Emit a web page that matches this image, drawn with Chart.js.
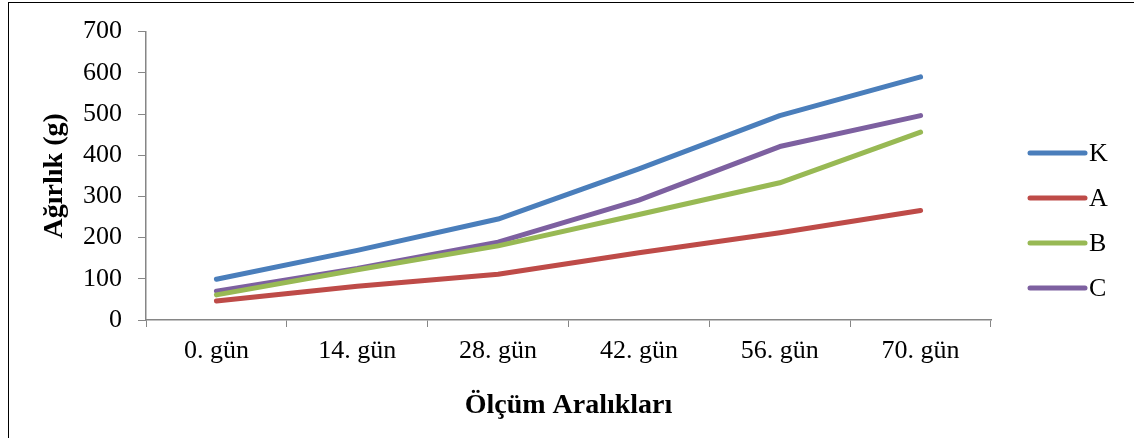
<!DOCTYPE html>
<html lang="tr">
<head>
<meta charset="utf-8">
<title>Ağırlık (g)</title>
<script src="https://cdn.jsdelivr.net/npm/chart.js@4/dist/chart.umd.min.js"></script>
<style>
  html, body { margin: 0; padding: 0; background: #fff; overflow: hidden; }
  #frame {
    position: absolute; left: 8px; top: 2px;
    width: 1200px; height: 500px;
    border-left: 1px solid #000; border-top: 1px solid #000;
  }
  #wrap { position: absolute; left: 0; top: 0; width: 1134px; height: 438px; }
</style>
</head>
<body>
<div id="frame"></div>
<div id="wrap"><canvas id="chart" width="1134" height="438"></canvas></div>
<script>
// ===== Data =====
const days = ['0. gün', '14. gün', '28. gün', '42. gün', '56. gün', '70. gün'];

const groupK = [99, 169, 245, 367, 496, 590];
const groupA = [46, 82, 111, 163, 212, 266];
const groupB = [61, 122, 180, 256, 333, 456];
const groupC = [70, 125, 189, 291, 421, 496];

const yTicks = [0, 100, 200, 300, 400, 500, 600, 700];

// ── Styling ────────────────────────────────────────────────────────────────
const SERIF = "'Liberation Serif', 'Times New Roman', serif";
const AXIS_GREY = '#868686';

const series = [
  { label: 'K', data: groupK, color: '#4A7EBB' },
  { label: 'A', data: groupA, color: '#BE4B48' },
  { label: 'B', data: groupB, color: '#98B954' },
  { label: 'C', data: groupC, color: '#7D60A0' },
];

// Legend drawn beside the plot: short thick line + series name.
const sideLegend = {
  id: 'sideLegend',
  afterDraw(chart) {
    const ctx = chart.ctx;
    const x0 = 1030, x1 = 1085, top = 153, step = 45;
    ctx.save();
    ctx.font = `26px ${SERIF}`;
    ctx.textBaseline = 'middle';
    ctx.lineCap = 'round';
    chart.data.datasets.forEach((ds, i) => {
      const y = top + i * step;
      ctx.strokeStyle = ds.borderColor;
      ctx.lineWidth = 5;
      ctx.beginPath();
      ctx.moveTo(x0, y);
      ctx.lineTo(x1, y);
      ctx.stroke();
      ctx.fillStyle = '#000';
      ctx.fillText(ds.label, x1 + 4, y + 1);
    });
    ctx.restore();
  },
};

new Chart(document.getElementById('chart'), {
  type: 'line',
  data: {
    labels: days,
    datasets: series.map(s => ({
      label: s.label,
      data: s.data,
      borderColor: s.color,
      backgroundColor: s.color,
      borderWidth: 5,
      borderCapStyle: 'round',
      borderJoinStyle: 'round',
      pointRadius: 0,
      tension: 0,
      fill: false,
    })),
  },
  options: {
    responsive: false,
    animation: false,
    layout: { padding: { left: 0, right: 143, top: 31, bottom: 0 } },
    plugins: {
      legend: { display: false },
      tooltip: { enabled: false },
    },
    scales: {
      x: {
        offset: true,
        grid: { display: true, offset: true, drawOnChartArea: false, drawTicks: true, tickLength: 7, color: AXIS_GREY },
        border: { display: true, color: AXIS_GREY, width: 1.5 },
        ticks: { color: '#000', font: { family: SERIF, size: 26 }, padding: 9, maxRotation: 0 },
        title: {
          display: true, text: 'Ölçüm Aralıkları', color: '#000',
          font: { family: SERIF, size: 28, weight: 'bold' },
          padding: { top: 0, bottom: 15 },
        },
        afterFit(scale) { scale.height = 118; },
      },
      y: {
        min: 0,
        max: 700,
        afterBuildTicks(scale) { scale.ticks = yTicks.map(v => ({ value: v })); },
        grid: { display: true, drawOnChartArea: false, drawTicks: true, tickLength: 8, color: AXIS_GREY },
        border: { display: true, color: AXIS_GREY, width: 1.5 },
        ticks: { color: '#000', font: { family: SERIF, size: 26 }, padding: 16 },
        title: {
          display: true, text: 'Ağırlık (g)', color: '#000',
          font: { family: SERIF, size: 28, weight: 'bold' },
          padding: { top: 38, bottom: 0 },
        },
        afterFit(scale) { scale.width = 146; },
      },
    },
  },
  plugins: [sideLegend],
});
</script>
</body>
</html>
